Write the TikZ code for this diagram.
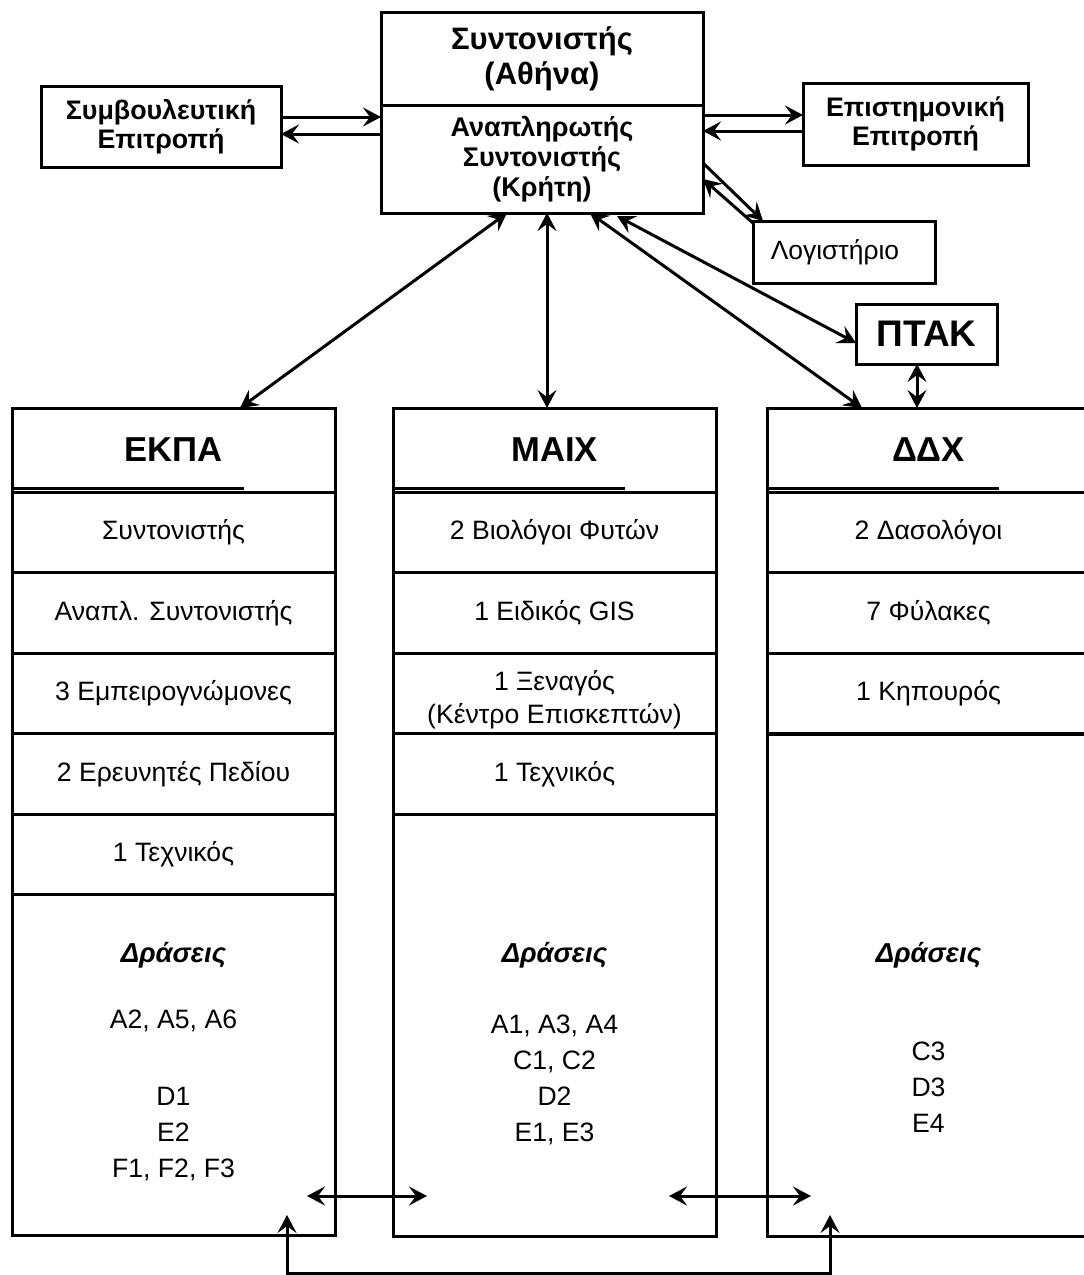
\documentclass[tikz,border=0pt]{standalone}
\usepackage{fontspec}
\setmainfont{Liberation Sans}
\usetikzlibrary{arrows.meta}

\begin{document}
\begin{tikzpicture}[x=0.5pt,y=-0.5pt]
\tikzset{box/.style = {draw, line width=1.5pt, inner sep=0pt, outer sep=0pt, align=center}}
\tikzset{cell/.style = {box, minimum width=161.5pt, minimum height=40.25pt, font=\fontsize{13.3}{16.5}\selectfont}}
\tikzset{colhead/.style = {box, minimum width=161.5pt, minimum height=42pt, font=\fontsize{17.3}{20}\selectfont\bfseries}}
\tikzset{acttitle/.style = {font=\fontsize{13.7}{16}\selectfont\bfseries\itshape}}
\tikzset{actlist/.style = {align=center, font=\fontsize{13.3}{18}\selectfont}}
\tikzset{link/.style = {line width=1.5pt, >={Stealth[length=9pt,width=9.5pt,inset=3.5pt]}}}
\useasboundingbox (0,0) rectangle (1083,1275);

% coordination
\node[box, minimum width=161pt, minimum height=46.5pt, font=\fontsize{15.5}{17.5}\selectfont\bfseries] (coordA) at (542,58.5) {Συντονιστής\\(Αθήνα)};
\node[box, minimum width=161pt, minimum height=54pt, font=\fontsize{13.5}{15}\selectfont\bfseries] (coordB) at (542,159) {Αναπληρωτής\\Συντονιστής\\(Κρήτη)};
\node[box, minimum width=120pt, minimum height=40.5pt, font=\fontsize{13.4}{14.5}\selectfont\bfseries] (advL) at (161,126.5) {Συμβουλευτική\\Επιτροπή};
\node[box, minimum width=112.5pt, minimum height=41pt, font=\fontsize{13.4}{14.5}\selectfont\bfseries] (sciR) at (915.5,124) {Επιστημονική\\Επιτροπή};
\node[box, minimum width=91pt, minimum height=31pt] (accR) at (844,252) {};
\node[font=\fontsize{13.2}{15}\selectfont] (accRText) at (835,252) {Λογιστήριο};
\node[box, minimum width=70.5pt, minimum height=30pt, font=\fontsize{18.5}{20}\selectfont\bfseries] (ptak) at (926.5,334) {ΠΤΑΚ};

% EKPA
\node[colhead] (ekpaHead) at (173.5,450) {ΕΚΠΑ};
\node[cell] (ekpaRow1) at (173.5,532.5) {Συντονιστής};
\node[cell] (ekpaRow2) at (173.5,613) {Αναπλ. Συντονιστής};
\node[cell] (ekpaRow3) at (173.5,693.5) {3 Εμπειρογνώμονες};
\node[cell] (ekpaRow4) at (173.5,774) {2 Ερευνητές Πεδίου};
\node[cell] (ekpaRow5) at (173.5,854.5) {1 Τεχνικός};
\node[box, minimum width=161.5pt, minimum height=170.5pt] (ekpaAct) at (173.5,1065.4) {};
\node[acttitle] (ekpaActTitle) at (173.5,955) {Δράσεις};
\node[actlist] (ekpaActList) at (173.5,1095) {A2, A5, A6\\[20.5pt]D1\\E2\\F1, F2, F3};

% MAIX
\node[colhead] (maixHead) at (554.5,450) {ΜΑΙΧ};
\node[cell] (maixRow1) at (554.5,532.5) {2 Βιολόγοι Φυτών};
\node[cell] (maixRow2) at (554.5,613) {1 Ειδικός GIS};
\node[cell] (maixRow3) at (554.5,693.5) {};
\node[align=center, font=\fontsize{13.3}{16.5}\selectfont] (maixRow3Text) at (554.5,700) {1 Ξεναγός\\(Κέντρο Επισκεπτών)};
\node[cell] (maixRow4) at (554.5,774) {1 Τεχνικός};
\node[box, minimum width=161.5pt, minimum height=211pt] (maixAct) at (554.5,1025) {};
\node[acttitle] (maixActTitle) at (554.5,955) {Δράσεις};
\node[actlist] (maixActList) at (554.5,1080) {A1, A3, A4\\C1, C2\\D2\\E1, E3};

% DDX
\node[colhead] (ddxHead) at (928.5,450) {ΔΔΧ};
\node[cell] (ddxRow1) at (928.5,532.5) {2 Δασολόγοι};
\node[cell] (ddxRow2) at (928.5,613) {7 Φύλακες};
\node[cell] (ddxRow3) at (928.5,693.5) {1 Κηπουρός};
\node[box, minimum width=161.5pt, minimum height=251pt] (ddxAct) at (928.5,985) {};
\node[acttitle] (ddxActTitle) at (928.5,955) {Δράσεις};
\node[actlist] (ddxActList) at (928.5,1087.5) {C3\\D3\\E4};

% double rule under the headers
\draw[line width=1.5pt] ([yshift=2pt]ekpaHead.south west) -- ++(232,0);
\draw[line width=1.5pt] ([yshift=2pt]maixHead.south west) -- ++(232,0);
\draw[line width=1.5pt] ([yshift=2pt]ddxHead.south west) -- ++(232,0);

% links at the top
\draw[link,->] ([yshift=4.75pt]advL.east) -- ([yshift=4.75pt]advL.east -| coordB.west);
\draw[link,->] ([yshift=-3.75pt]advL.east -| coordB.west) -- ([yshift=-3.75pt]advL.east);
\draw[link,->] ([yshift=4.5pt]sciR.west -| coordB.east) -- ([yshift=4.5pt]sciR.west);
\draw[link,->] ([yshift=-3.5pt]sciR.west) -- ([yshift=-3.5pt]sciR.west -| coordB.east);
\draw[link,->] ([yshift=-2pt]coordB.east) -- ([xshift=5pt]accR.north west);
\draw[link,->] ([yshift=-1pt]accR.north west) -- ([yshift=-10pt]coordB.east);
\draw[link,<->] ([xshift=37.5pt,yshift=-1.5pt]coordB.south) -- ([yshift=-4.5pt]ptak.west);
\draw[link,<->] ([xshift=24pt]coordB.south) -- ([xshift=-33.25pt]ddxHead.north);
\draw[link,<->] ([xshift=-4.75pt]ptak.south) -- ([xshift=-4.75pt]ptak.south |- ddxHead.north);
\draw[link,<->] ([xshift=2.5pt]coordB.south) -- ([xshift=2.5pt]coordB.south |- maixHead.north);
\draw[link,<->] ([xshift=-17.5pt]coordB.south) -- ([xshift=33.25pt]ekpaHead.north);

% links at the bottom
\coordinate (emL) at (307,1196);
\coordinate (emR) at (427,1196);
\coordinate (mdL) at (669,1196);
\coordinate (mdR) at (811,1196);
\coordinate (botL) at (287,1215);
\coordinate (botR) at (830,1215);
\coordinate (botMid) at (558,1273);
\draw[link,<->] (emL) -- (emR);
\draw[link,<->] (mdL) -- (mdR);
\draw[link,<->] (botL) |- (botMid) -| (botR);
\end{tikzpicture}
\end{document}
